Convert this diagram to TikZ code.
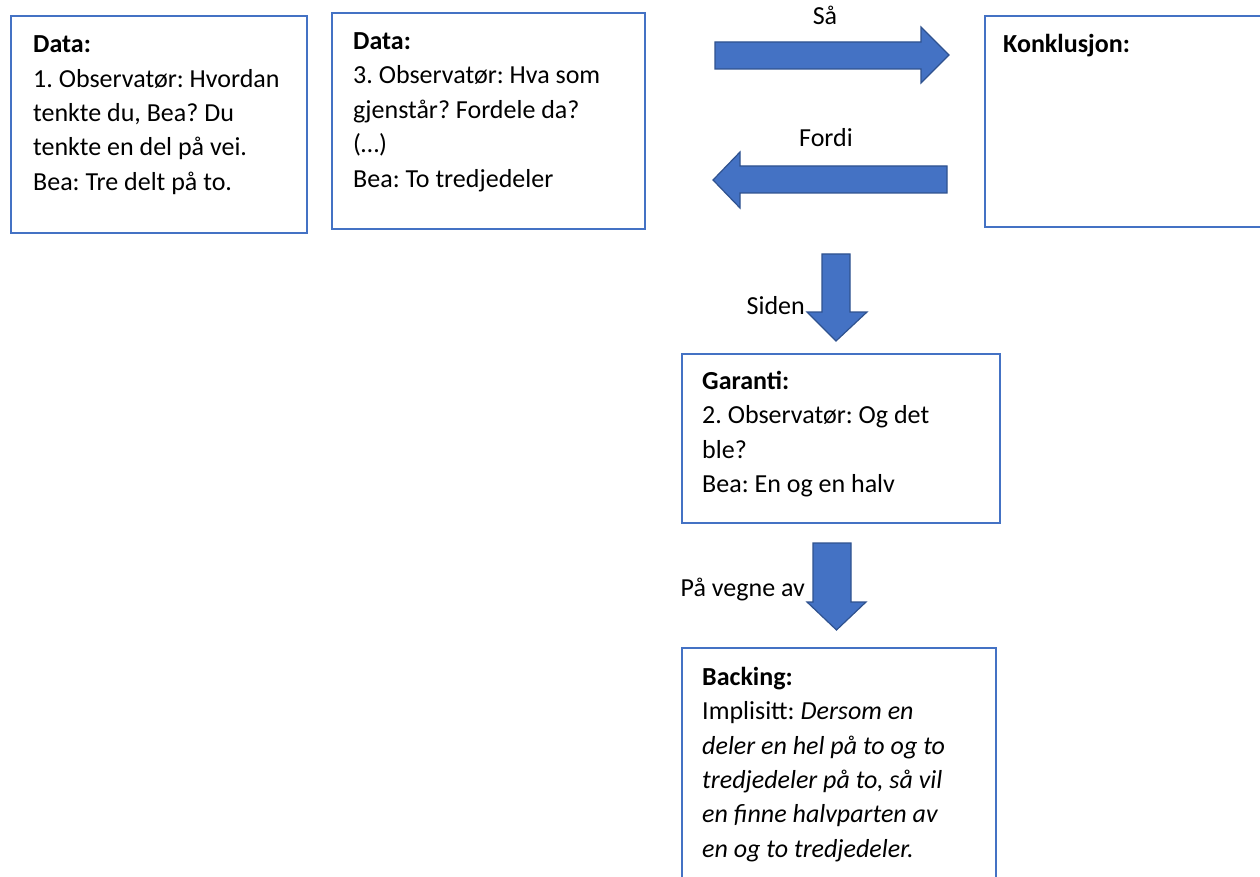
\documentclass[tikz,border=0pt]{standalone}
\usepackage{fontspec}
\setmainfont{Carlito}
\frenchspacing
\definecolor{boxblue}{HTML}{4472C4}
\definecolor{arrowfill}{HTML}{4472C4}
\definecolor{arrowline}{HTML}{2F528F}
\begin{document}
\begin{tikzpicture}[x=1pt,y=-1pt,
  box/.style={draw=boxblue,line width=2pt,fill=none},
  txt/.style={anchor=north west,inner sep=0pt,align=left,
    font=\fontsize{26}{34.4}\selectfont},
  lbl/.style={inner sep=0pt,font=\fontsize{26}{30}\selectfont},
  blockarrow/.style={fill=arrowfill,draw=arrowline,line width=1.2pt,line join=miter}]
\useasboundingbox (0,0) rectangle (1260,877);
\clip (0,0) rectangle (1260,877);
\newcommand{\lineA}{\rule{0pt}{22pt}}

% Data boxes
\node[box,anchor=north west,minimum width=296pt,minimum height=217pt,inner sep=0pt] (data1) at (10,15) {};
\node[txt] (data1txt) at (33,30.5) {\lineA\textbf{Data:}\\1. Observatør: Hvordan\\tenkte du, Bea? Du\\tenkte en del på vei.\\Bea: Tre delt på to.};

\node[box,anchor=north west,minimum width=313pt,minimum height=216pt,inner sep=0pt] (data2) at (331,12) {};
\node[txt] (data2txt) at (353,27.3) {\lineA\textbf{Data:}\\3. Observatør: Hva som\\gjenstår? Fordele da?\\(…)\\Bea: To tredjedeler};

% Conclusion box (runs past the right edge)
\node[box,anchor=north west,minimum width=290pt,minimum height=211pt,inner sep=0pt] (konk) at (984,15) {};
\node[txt] (konktxt) at (1003,30) {\lineA\textbf{Konklusjon:}};

% Warrant box
\node[box,anchor=north west,minimum width=318pt,minimum height=169pt,inner sep=0pt] (garanti) at (681,353) {};
\node[txt] (garantitxt) at (702,367) {\lineA\textbf{Garanti:}\\2. Observatør: Og det\\ble?\\Bea: En og en halv};

% Backing box (runs past the bottom edge)
\node[box,anchor=north west,minimum width=314pt,minimum height=260pt,inner sep=0pt] (backing) at (681,647) {};
\node[txt] (backingtxt) at (702,663) {\lineA\textbf{Backing:}\\Implisitt: \textit{Dersom en}\\\textit{deler en hel på to og to}\\\textit{tredjedeler på to, så vil}\\\textit{en finne halvparten av}\\\textit{en og to tredjedeler.}};

% Block arrows
\draw[blockarrow] (715,42) -- (921,42) -- (921,27) -- (949,55) -- (921,83) -- (921,69) -- (715,69) -- cycle;
\node[lbl] (saa) at (825,15) {Så};

\draw[blockarrow] (947,166) -- (740,166) -- (740,152) -- (713,180) -- (740,208) -- (740,193) -- (947,193) -- cycle;
\node[lbl] (fordi) at (826,138) {Fordi};

\draw[blockarrow] (822,254) -- (850,254) -- (850,312) -- (867,312) -- (836,341) -- (807,312) -- (822,312) -- cycle;
\node[lbl,anchor=base east] (siden) at (805,314) {Siden};

\draw[blockarrow] (813,543) -- (851,543) -- (851,602) -- (866,602) -- (836.5,630) -- (807,602) -- (813,602) -- cycle;
\node[lbl,anchor=base east] (vegne) at (805,596) {På vegne av};
\end{tikzpicture}
\end{document}
